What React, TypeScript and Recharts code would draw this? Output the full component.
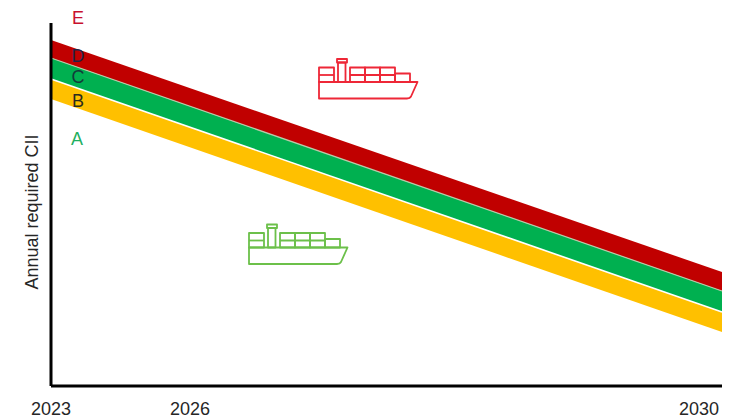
import { ComposedChart, Area, Line, XAxis, YAxis } from 'recharts';

const years = [2023, 2030];
// boundaries between the rating bands, from the top of D down to the bottom of B
const topD = [346, 114];
const topC = [328, 95];
const topB = [307, 74];
const bottomB = [287, 54];

// the 2026 label does not sit on a linear time scale, so its position is listed apart
const tickPositions = [2023, 2024.45, 2030];
const tickLabels = ['2023', '2026', '2030'];

const ratingLetters = [
  { name: 'E', x: 78, y: 24, color: '#C8102E' },
  { name: 'D', x: 78, y: 62, color: '#1F2347' },
  { name: 'C', x: 78, y: 83, color: '#123B3A' },
  { name: 'B', x: 78, y: 107, color: '#2B2B1E' },
  { name: 'A', x: 77, y: 145, color: '#1FAF5F' },
];

const data = years.map((year, i) => ({
  year,
  red: [topC[i], topD[i]],
  green: [topB[i], topC[i]],
  yellow: [bottomB[i], topB[i]],
  redEdge: topC[i],
  greenEdge: topB[i],
}));

const FONT = '"Liberation Sans", Arial, sans-serif';

const YearTick = (props: any) => {
  const { x, y, payload, index } = props;
  const last = index === tickLabels.length - 1;
  return (
    <text
      x={last ? x + 2 : x}
      y={y}
      textAnchor={last ? 'end' : 'middle'}
      fontFamily={FONT}
      fontSize={18}
      fill='#262626'
    >
      {tickLabels[tickPositions.indexOf(payload.value)]}
    </text>
  );
};

// container ship outline, x/y is the bottom left corner of the hull
const Ship = ({ x, y, color }: { x: number; y: number; color: string }) => (
  <g
    transform={`translate(${x} ${y})`}
    fill='none'
    stroke={color}
    strokeWidth={1.8}
    strokeLinejoin='round'
  >
    <path d='M0 -16.5 H98.5 L92 -2 Q91 0 88 0 H0 Z' />
    <rect x={0} y={-31} width={15} height={14.5} />
    <path d='M0 -23.5 H15' />
    <rect x={19} y={-36} width={7.5} height={19.5} />
    <rect x={18} y={-39.5} width={10} height={3.5} />
    <rect x={31} y={-31} width={15} height={14.5} />
    <rect x={46} y={-31} width={15} height={14.5} />
    <rect x={61} y={-31} width={15} height={14.5} />
    <path d='M31 -23.5 H76' />
    <rect x={76} y={-25} width={15} height={8.5} />
  </g>
);

const App = () => (
  <div style={{ position: 'absolute', left: 0, top: 0, width: 733, height: 419, background: '#fff' }}>
    <ComposedChart
      width={733}
      height={419}
      data={data}
      margin={{ top: 23, right: 11, bottom: 0, left: 50 }}
    >
      <XAxis
        dataKey='year'
        type='number'
        domain={[2023, 2030]}
        ticks={tickPositions}
        tick={YearTick}
        tickLine={false}
        tickMargin={23}
        height={33}
        axisLine={{ stroke: '#000', strokeWidth: 3 }}
      />
      <YAxis
        type='number'
        domain={[0, 363]}
        width={1}
        tick={false}
        tickLine={false}
        axisLine={{ stroke: '#000', strokeWidth: 3 }}
      />
      <Area dataKey='red' fill='#C00000' fillOpacity={1} stroke='none' isAnimationActive={false} />
      <Area dataKey='green' fill='#00B050' fillOpacity={1} stroke='none' isAnimationActive={false} />
      <Area dataKey='yellow' fill='#FFC000' fillOpacity={1} stroke='none' isAnimationActive={false} />
      <Line dataKey='redEdge' stroke='#B9C9A8' strokeWidth={1.2} dot={false} isAnimationActive={false} />
      <Line dataKey='greenEdge' stroke='#FFFFFF' strokeWidth={1.6} dot={false} isAnimationActive={false} />
      <Ship x={319} y={98.5} color='#EE2737' />
      <Ship x={249} y={264} color='#6CC04A' />
    </ComposedChart>
    {/* rating letters and axis title sit on top of the bands */}
    <svg width={733} height={419} style={{ position: 'absolute', left: 0, top: 0, pointerEvents: 'none' }}>
      {ratingLetters.map((l) => (
        <text key={l.name} x={l.x} y={l.y} textAnchor='middle' fontFamily={FONT} fontSize={18} fill={l.color}>
          {l.name}
        </text>
      ))}
      <text
        transform='translate(38 212) rotate(-90)'
        textAnchor='middle'
        fontFamily={FONT}
        fontSize={18}
        fill='#262626'
      >
        Annual required CII
      </text>
    </svg>
  </div>
);

export default App;
